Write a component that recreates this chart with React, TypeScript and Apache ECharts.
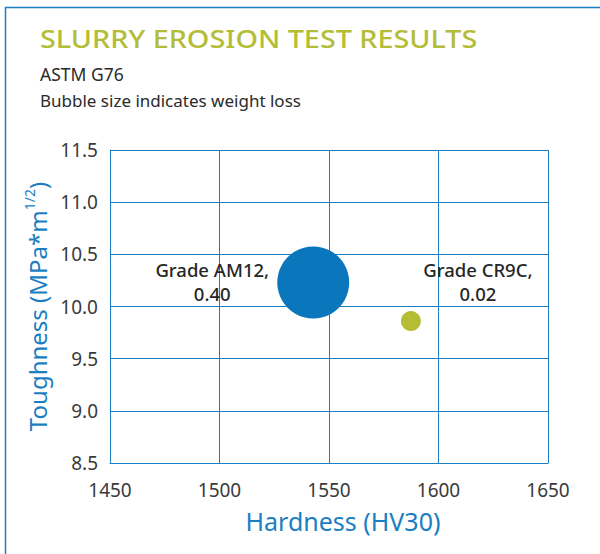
import React, { useEffect, useRef } from "react";
import * as echarts from "echarts";

const grades = ["Grade AM12", "Grade CR9C"];
const hardness = [1542.8, 1587.4];
const toughness = [10.23, 9.86];
const weightLoss = [0.4, 0.02];
const bubbleColors = ["#0a76bc", "#b5bd35"];
const xTicks = [1450, 1500, 1550, 1600, 1650];
const yTicks = [8.5, 9.0, 9.5, 10.0, 10.5, 11.0, 11.5];

const BLUE = "#1a7ec2";
const FONT = "Noto Sans";

export default function App() {
  const ref = useRef<HTMLDivElement>(null);
  useEffect(() => {
    if (!ref.current) return;
    const chart = echarts.init(ref.current, null, { renderer: "svg" });
    const labelPos = [
      [-65, 35],
      [77, -30],
    ];
    const data = grades.map((g, i) => ({
      name: g,
      value: [hardness[i], toughness[i], weightLoss[i]],
      itemStyle: { color: bubbleColors[i], opacity: 1 },
      label: {
        show: true,
        position: labelPos[i],
        align: "center",
        verticalAlign: "middle",
        formatter: g + ",\n" + weightLoss[i].toFixed(2),
        color: "#262626",
        fontFamily: FONT,
        fontSize: 18.5,
        fontWeight: 500,
        lineHeight: 24,
      },
    }));
    chart.setOption({
      animation: false,
      grid: { left: 110, top: 150, right: 52, bottom: 91, containLabel: false },
      xAxis: {
        type: "value",
        min: xTicks[0],
        max: xTicks[xTicks.length - 1],
        interval: 50,
        name: "Hardness (HV30)",
        nameLocation: "middle",
        nameGap: 45,
        nameTextStyle: { color: BLUE, fontSize: 25, fontFamily: FONT, padding: [0, 0, 0, 28] },
        axisLine: { show: true, lineStyle: { color: BLUE, width: 1 } },
        axisTick: { show: false },
        axisLabel: {
          color: "#3a3a3a",
          fontSize: 19,
          fontFamily: FONT,
          margin: 17,
          formatter: (v: number) => String(v),
        },
        splitLine: { show: true, lineStyle: { color: BLUE, width: 1 } },
      },
      yAxis: {
        type: "value",
        min: yTicks[0],
        max: yTicks[yTicks.length - 1],
        interval: 0.5,
        name: "{a|Toughness (MPa*m}{s|1/2}{a|)}",
        nameLocation: "middle",
        nameRotate: 90,
        nameGap: 54,
        nameTextStyle: {
          color: BLUE,
          fontSize: 24,
          fontFamily: FONT,
          rich: {
            a: { color: BLUE, fontSize: 24, fontFamily: FONT, lineHeight: 30 },
            s: { color: BLUE, fontSize: 14, fontFamily: FONT, lineHeight: 30, verticalAlign: "top", padding: [0, 0, 12, 0] },
          },
        },
        axisLine: { show: true, lineStyle: { color: BLUE, width: 1 } },
        axisTick: { show: false },
        axisLabel: {
          color: "#3a3a3a",
          fontSize: 19,
          fontFamily: FONT,
          margin: 12,
          formatter: (v: number) => v.toFixed(1),
        },
        splitLine: { show: true, lineStyle: { color: BLUE, width: 1 } },
      },
      series: [
        {
          type: "scatter",
          data,
          symbolSize: (val: number[]) => 20 + ((val[2] - 0.02) * 52) / 0.38,
        },
      ],
      graphic: [
        {
          type: "polyline",
          shape: { points: [[5.5, 554], [5.5, 7.5], [600, 7.5]] },
          style: { stroke: BLUE, lineWidth: 1.5, fill: "none" },
          silent: true,
        },
        {
          type: "text",
          x: 40,
          y: 26,
          scaleX: 1.15,
          style: {
            text: "SLURRY EROSION TEST RESULTS",
            fill: "#b4bd38",
            font: `500 25px "${FONT}"`,
            verticalAlign: "top",
            align: "left",
          },
        },
        {
          type: "text",
          x: 40,
          y: 65,
          style: { text: "ASTM G76", fill: "#2a2a2a", font: `17.5px "${FONT}"`, verticalAlign: "top" },
        },
        {
          type: "text",
          x: 40,
          y: 92,
          style: { text: "Bubble size indicates weight loss", fill: "#2a2a2a", font: `17px "${FONT}"`, verticalAlign: "top" },
        },
      ],
    });
    return () => chart.dispose();
  }, []);
  return (
    <div
      ref={ref}
      style={{ position: "absolute", left: 0, top: 0, width: 600, height: 554, background: "#fff" }}
    />
  );
}
